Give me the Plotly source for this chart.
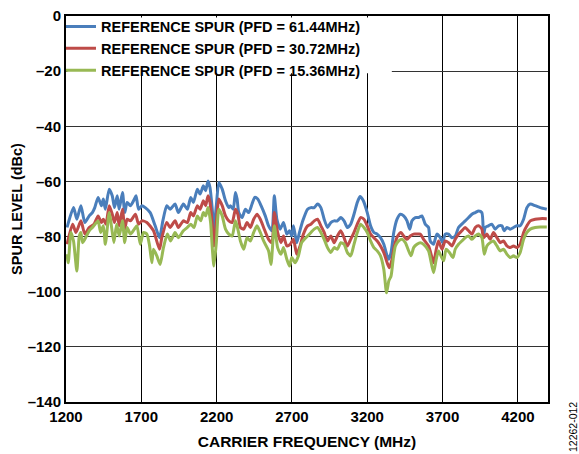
import plotly.graph_objects as go

# ---- data (carrier frequency MHz, spur level dBc) ----
f_61 = [1207, 1250, 1272, 1299, 1325, 1354, 1375, 1391, 1413, 1435, 1448, 1461, 1487, 1507, 1522, 1540,
        1553, 1575, 1590, 1606, 1628, 1654, 1665, 1682, 1704, 1726, 1759, 1792, 1821, 1843, 1869, 1891,
        1924, 1946, 1979, 2006, 2028, 2046, 2072, 2090, 2112, 2127, 2143, 2156, 2171, 2182, 2198, 2215,
        2237, 2259, 2281, 2292, 2310, 2325, 2336, 2347, 2369, 2391, 2413, 2435, 2453, 2473, 2495, 2523,
        2545, 2567, 2583, 2600, 2622, 2644, 2666, 2684, 2699, 2710, 2732, 2750, 2772, 2804, 2826, 2848,
        2870, 2892, 2914, 2936, 2958, 2980, 3002, 3024, 3046, 3068, 3090, 3112, 3134, 3152, 3174, 3200,
        3222, 3244, 3266, 3288, 3310, 3332, 3343, 3358, 3376, 3398, 3420, 3442, 3464, 3482, 3497, 3519,
        3541, 3563, 3585, 3607, 3618, 3640, 3662, 3685, 3700, 3718, 3740, 3762, 3784, 3806, 3828, 3850,
        3873, 3895, 3917, 3939, 3961, 3972, 3983, 4005, 4027, 4049, 4072, 4094, 4109, 4127, 4149, 4171,
        4193, 4215, 4238, 4260, 4282, 4315, 4348, 4392]
spur_61 = [-76.7, -69.5, -73.7, -68.8, -74.9, -72.5, -71.3, -69.5, -65.8, -68.8, -66.4, -70.1, -62.8, -65.2,
           -69.5, -65.2, -70.1, -64.0, -71.3, -67.6, -68.8, -66.4, -65.2, -70.1, -68.8, -69.5, -71.3, -76.1,
           -80.4, -74.3, -68.8, -70.1, -68.2, -71.3, -68.2, -70.1, -65.8, -67.6, -62.8, -64.6, -61.6, -63.4,
           -59.8, -62.2, -70.1, -77.3, -68.8, -60.4, -62.8, -67.0, -69.5, -68.8, -70.1, -64.0, -66.4, -71.3,
           -73.1, -70.1, -71.3, -68.2, -65.8, -66.4, -68.8, -72.5, -76.1, -77.9, -65.2, -73.7, -77.3, -74.9,
           -79.1, -77.9, -79.8, -76.1, -82.2, -78.5, -74.3, -70.1, -69.5, -69.5, -68.2, -69.5, -73.7, -76.7,
           -74.9, -74.3, -74.3, -73.1, -74.3, -76.7, -75.5, -71.9, -67.6, -65.5, -67.0, -71.3, -76.1, -78.5,
           -79.1, -80.4, -82.8, -87.0, -88.2, -85.8, -78.5, -73.7, -71.9, -72.5, -74.3, -77.3, -74.3, -73.1,
           -73.1, -72.5, -75.5, -76.7, -81.6, -82.8, -79.1, -80.4, -82.2, -79.1, -79.1, -80.4, -79.8, -76.7,
           -75.5, -74.3, -73.1, -71.9, -71.3, -70.7, -71.3, -79.8, -76.7, -76.1, -75.5, -77.3, -76.1, -76.1,
           -77.9, -76.7, -77.3, -76.7, -76.1, -76.1, -73.7, -69.5, -68.2, -68.8, -69.5, -70.1]

f_30 = [1207, 1244, 1266, 1299, 1325, 1354, 1386, 1413, 1435, 1448, 1465, 1487, 1507, 1522, 1540, 1553,
        1575, 1590, 1606, 1628, 1661, 1682, 1704, 1737, 1781, 1821, 1836, 1869, 1891, 1924, 1946, 1979,
        2006, 2028, 2046, 2072, 2090, 2112, 2127, 2143, 2156, 2171, 2182, 2198, 2215, 2237, 2259, 2281,
        2303, 2325, 2341, 2358, 2380, 2402, 2424, 2446, 2468, 2490, 2512, 2545, 2567, 2583, 2605, 2627,
        2644, 2666, 2688, 2710, 2732, 2754, 2776, 2804, 2826, 2848, 2870, 2892, 2914, 2936, 2958, 2980,
        3002, 3024, 3046, 3068, 3090, 3112, 3134, 3156, 3178, 3200, 3222, 3244, 3266, 3288, 3310, 3332,
        3347, 3365, 3380, 3402, 3424, 3442, 3464, 3486, 3508, 3530, 3552, 3574, 3607, 3618, 3640, 3658,
        3673, 3696, 3718, 3740, 3762, 3784, 3806, 3828, 3850, 3873, 3895, 3917, 3939, 3961, 3972, 3994,
        4016, 4038, 4061, 4083, 4105, 4127, 4149, 4171, 4193, 4215, 4238, 4260, 4282, 4315, 4348, 4392]
spur_30 = [-82.8, -75.5, -78.5, -74.3, -79.1, -76.7, -75.5, -72.5, -74.9, -73.7, -75.5, -68.8, -71.9, -74.9,
           -71.3, -76.1, -70.1, -77.3, -73.7, -74.3, -71.9, -75.5, -74.3, -74.9, -77.9, -84.6, -80.4, -74.9,
           -76.7, -74.3, -76.7, -74.3, -74.9, -71.3, -72.5, -68.8, -70.1, -67.0, -68.8, -65.2, -67.6, -75.5,
           -83.4, -74.9, -66.4, -68.8, -72.5, -74.3, -74.9, -70.1, -71.9, -76.7, -77.3, -74.9, -76.7, -73.7,
           -71.9, -73.7, -76.7, -81.0, -82.2, -71.3, -78.5, -82.2, -79.8, -83.4, -82.8, -81.0, -86.4, -83.4,
           -79.1, -76.1, -75.5, -74.3, -73.7, -76.1, -78.5, -81.6, -79.8, -82.2, -79.8, -77.9, -80.4, -83.4,
           -81.0, -78.5, -75.5, -73.1, -73.7, -76.1, -79.1, -80.4, -81.6, -83.4, -85.8, -89.5, -91.3, -88.2,
           -83.4, -79.8, -78.5, -79.8, -81.0, -79.8, -79.1, -79.1, -79.1, -81.0, -83.4, -85.2, -89.5, -84.6,
           -81.6, -84.6, -81.6, -82.2, -83.4, -81.0, -79.1, -77.9, -76.7, -77.9, -79.1, -76.7, -76.1, -77.3,
           -80.4, -79.1, -81.0, -78.5, -80.4, -82.2, -81.6, -83.4, -84.0, -83.4, -84.0, -82.8, -78.5, -76.1,
           -74.3, -73.7, -73.5, -73.5]

f_15 = [1207, 1215, 1233, 1250, 1272, 1288, 1299, 1310, 1325, 1354, 1375, 1393, 1413, 1430, 1448, 1461,
        1487, 1500, 1518, 1536, 1553, 1575, 1590, 1606, 1628, 1654, 1671, 1693, 1715, 1737, 1755, 1770,
        1781, 1803, 1825, 1847, 1873, 1895, 1924, 1946, 1979, 2006, 2028, 2050, 2072, 2094, 2112, 2127,
        2143, 2160, 2171, 2182, 2198, 2215, 2237, 2259, 2281, 2303, 2325, 2341, 2358, 2380, 2402, 2424,
        2446, 2468, 2490, 2512, 2545, 2561, 2583, 2605, 2627, 2644, 2666, 2684, 2699, 2721, 2743, 2765,
        2804, 2826, 2848, 2870, 2892, 2914, 2936, 2958, 2980, 3002, 3024, 3046, 3068, 3090, 3112, 3134,
        3156, 3178, 3200, 3222, 3244, 3266, 3288, 3310, 3328, 3343, 3358, 3372, 3387, 3409, 3431, 3453,
        3475, 3491, 3508, 3530, 3552, 3574, 3607, 3618, 3640, 3658, 3673, 3689, 3707, 3724, 3746, 3769,
        3784, 3806, 3828, 3850, 3873, 3895, 3917, 3939, 3961, 3977, 3994, 4016, 4038, 4061, 4083, 4105,
        4127, 4149, 4171, 4193, 4215, 4238, 4260, 4282, 4315, 4348, 4392]
spur_15 = [-86.4, -89.5, -78.5, -81.6, -92.5, -79.8, -78.5, -82.2, -81.0, -77.9, -76.7, -75.5, -74.3, -78.5,
           -76.1, -82.8, -71.3, -75.5, -82.2, -75.5, -79.8, -74.3, -82.2, -76.7, -79.1, -77.3, -76.1, -82.8,
           -78.5, -79.1, -83.4, -89.5, -84.6, -87.0, -90.1, -84.0, -79.1, -81.6, -78.5, -80.4, -77.9, -76.7,
           -75.5, -76.7, -72.5, -74.3, -71.3, -72.5, -69.5, -74.9, -84.0, -90.7, -82.2, -70.1, -72.5, -77.3,
           -79.1, -79.8, -74.3, -77.3, -81.6, -84.6, -80.4, -81.6, -78.5, -76.1, -78.5, -81.6, -85.2, -90.1,
           -76.1, -84.0, -86.4, -84.0, -88.2, -90.7, -87.6, -89.5, -87.0, -82.2, -79.8, -78.5, -77.3, -76.7,
           -78.5, -81.0, -84.0, -85.8, -84.0, -84.6, -82.2, -82.8, -85.8, -87.0, -82.8, -78.5, -75.5, -76.7,
           -78.5, -81.6, -84.0, -85.2, -87.0, -91.9, -100.4, -96.1, -94.3, -88.2, -83.4, -81.6, -81.0, -82.2,
           -85.2, -87.0, -84.0, -82.8, -82.2, -82.8, -85.2, -87.6, -93.1, -88.2, -85.2, -87.0, -88.8, -84.6,
           -85.8, -87.6, -84.6, -82.8, -81.6, -80.4, -79.8, -81.0, -79.8, -79.1, -80.4, -86.4, -83.4, -82.2,
           -81.6, -83.4, -85.2, -84.6, -86.4, -87.6, -87.0, -87.6, -85.8, -81.0, -78.5, -77.3, -76.7, -76.5,
           -76.5]

series_names = ["REFERENCE SPUR (PFD = 61.44MHz)",
                "REFERENCE SPUR (PFD = 30.72MHz)",
                "REFERENCE SPUR (PFD = 15.36MHz)"]
series_colors = ["#4a7ebb", "#be4b48", "#98b954"]

x_ticks = [1200, 1700, 2200, 2700, 3200, 3700, 4200]
y_ticks = [0, -20, -40, -60, -80, -100, -120, -140]
y_ticklabels = ["0", "–20", "–40", "–60", "–80", "–100", "–120", "–140"]

FONT = "Liberation Sans, Arial, sans-serif"

fig = go.Figure()
for fx, fy, name, col in zip([f_61, f_30, f_15], [spur_61, spur_30, spur_15], series_names, series_colors):
    fig.add_trace(go.Scatter(x=fx, y=fy, mode="lines", name=name,
                             line=dict(color=col, width=3, shape="spline", smoothing=0.6)))

fig.update_layout(
    width=579, height=454,
    margin=dict(l=66, r=31, t=16, b=52, autoexpand=False),
    paper_bgcolor="white", plot_bgcolor="white",
    font=dict(family=FONT, size=13, color="black"),
    showlegend=True,
    legend=dict(x=-0.0104, y=1.0142, xanchor="left", yanchor="top",
                bgcolor="rgba(255,255,255,0)", borderwidth=0, itemwidth=30,
                font=dict(family=FONT, size=14.5, color="black", weight="bold"),
                tracegroupgap=0),
    xaxis=dict(range=[1200, 4400], tickvals=x_ticks, ticktext=[str(v) for v in x_ticks],
               showgrid=True, gridcolor="#000000", gridwidth=1.3,
               showline=True, linecolor="#000000", linewidth=2, mirror=True,
               ticks="", ticklen=0, zeroline=False,
               tickfont=dict(family=FONT, size=15, weight="bold"),
               title=dict(text="CARRIER FREQUENCY (MHz)", standoff=12,
                          font=dict(family=FONT, size=15.5, weight="bold"))),
    yaxis=dict(range=[-140, 0], tickvals=y_ticks, ticktext=y_ticklabels,
               showgrid=True, gridcolor="#333333", gridwidth=1.3,
               showline=True, linecolor="#000000", linewidth=2, mirror=True,
               ticks="", ticklen=0, zeroline=False,
               tickfont=dict(family=FONT, size=15, weight="bold"),
               title=dict(text="SPUR LEVEL (dBc)", standoff=2,
                          font=dict(family=FONT, size=14.5, weight="bold"))),
)

# white panel behind the legend (hides gridlines, keeps the plot frame visible)
fig.add_shape(type="rect", xref="paper", yref="paper", x0=0.003, x1=0.676, y0=0.852, y1=0.996,
              fillcolor="white", line=dict(width=0), layer="above")

fig.add_annotation(text="12262-012", xref="paper", yref="paper", x=1.0, y=0.0,
                   xshift=25, yshift=-25, xanchor="center", yanchor="middle",
                   showarrow=False, textangle=-90,
                   font=dict(family=FONT, size=10.5, color="black"))

fig.write_html("out.html", config={"displayModeBar": False},
               post_script="document.body.style.margin='0px';document.body.style.overflow='hidden';")
